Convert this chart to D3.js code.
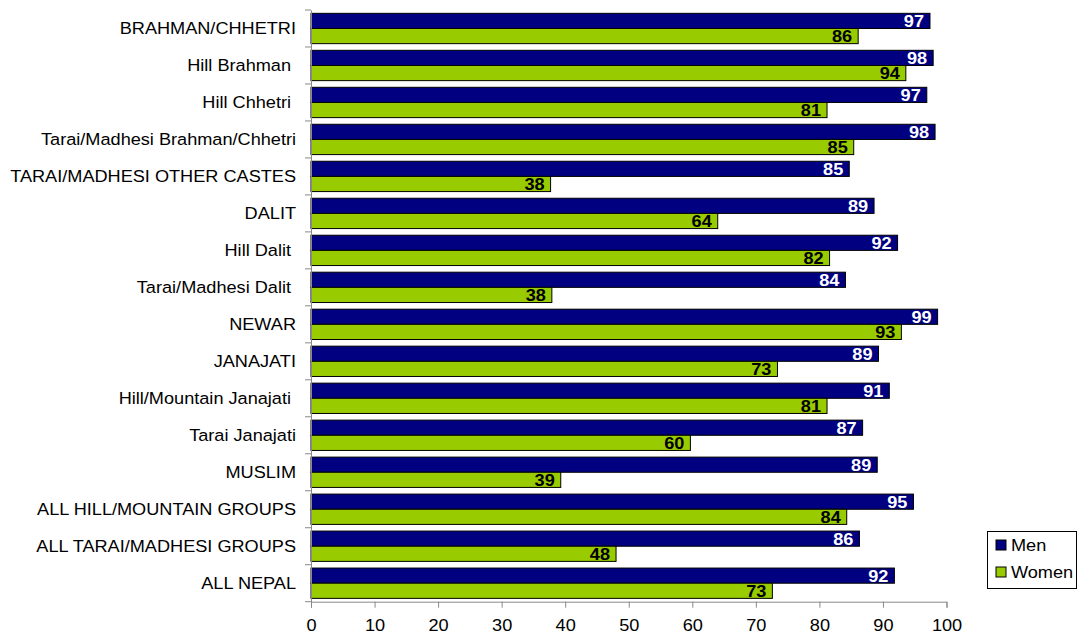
<!DOCTYPE html>
<html>
<head>
<meta charset="utf-8">
<script src="https://cdn.jsdelivr.net/npm/d3@7"></script>
<style>
  body { margin: 0; background: #fff; }
  svg { font-family: "Liberation Sans", Arial, sans-serif; }
</style>
</head>
<body>
<div></div>
<script>
// categories (top to bottom)
var categories = [
  "BRAHMAN/CHHETRI", "Hill Brahman ", "Hill Chhetri ", "Tarai/Madhesi Brahman/Chhetri",
  "TARAI/MADHESI OTHER CASTES", "DALIT", "Hill Dalit ", "Tarai/Madhesi Dalit ",
  "NEWAR", "JANAJATI", "Hill/Mountain Janajati ", "Tarai Janajati", "MUSLIM",
  "ALL HILL/MOUNTAIN GROUPS", "ALL TARAI/MADHESI GROUPS", "ALL NEPAL"
];
var series = ["Men", "Women"];
var men   = [97.4, 97.9, 96.9, 98.2, 84.7, 88.6, 92.3, 84.1, 98.6, 89.3, 91.0, 86.8, 89.1, 94.8, 86.3, 91.8];
var women = [86.1, 93.6, 81.2, 85.4, 37.7, 64.0, 81.6, 37.9, 92.9, 73.4, 81.2, 59.7, 39.3, 84.3, 48.0, 72.6];
var xTicks = [0, 10, 20, 30, 40, 50, 60, 70, 80, 90, 100];
var colors = {Men: "#000080", Women: "#99cc00"};
var labelColors = {Men: "#ffffff", Women: "#000000"};

// set the dimensions of the plot area
var width = 1078, height = 634;
var plot = {left: 311, right: 946.5, top: 10, bottom: 601.7};
var fontSize = "16.5px", stretch = "scale(1.1,1)";   // the source text is a bit wide

var svg = d3.select("div").append("svg")
    .attr("width", width)
    .attr("height", height);

var x = d3.scaleLinear().domain([0, 100]).range([plot.left, plot.right]);
var y = d3.scaleBand().domain(categories).range([plot.top, plot.bottom])
    .paddingInner(0.18).paddingOuter(0.09);
var ys = d3.scaleBand().domain(series).range([0, y.bandwidth()]);

var data = categories.map(function(c, i) {
  return {cat: c, values: [{s: "Men", v: men[i]}, {s: "Women", v: women[i]}]};
});

// bars
var groups = svg.append("g").selectAll("g")
  .data(data).enter().append("g")
    .attr("transform", function(d) { return "translate(0," + y(d.cat) + ")"; });

groups.selectAll("rect")
  .data(function(d) { return d.values; }).enter().append("rect")
    .attr("x", x(0))
    .attr("y", function(d) { return ys(d.s); })
    .attr("width", function(d) { return x(d.v) - x(0); })
    .attr("height", ys.bandwidth())
    .attr("fill", function(d) { return colors[d.s]; })
    .attr("stroke", "#000")
    .attr("stroke-width", 1);

groups.selectAll("text")
  .data(function(d) { return d.values; }).enter().append("text")
    .attr("transform", function(d) {
      return "translate(" + (x(d.v) - 6) + "," + (ys(d.s) + ys.bandwidth() / 2) + ") " + stretch;
    })
    .attr("dy", "0.36em")
    .attr("text-anchor", "end")
    .attr("font-weight", "bold")
    .attr("font-size", fontSize)
    .attr("fill", function(d) { return labelColors[d.s]; })
    .text(function(d) { return Math.round(d.v); });

// y axis line
var yAxis = svg.append("g")
    .attr("transform", "translate(" + plot.left + ",0)")
    .call(d3.axisLeft(y).tickSize(0).tickFormat(""));
yAxis.select(".domain").attr("stroke", "#888");
// band boundary ticks
svg.append("g").selectAll("line")
  .data(d3.range(categories.length + 1)).enter().append("line")
    .attr("x1", plot.left - 6).attr("x2", plot.left)
    .attr("y1", function(i) { return plot.top + i * y.step(); })
    .attr("y2", function(i) { return plot.top + i * y.step(); })
    .attr("stroke", "#888");

// category labels
svg.append("g").selectAll("text")
  .data(categories).enter().append("text")
    .attr("transform", function(d) {
      var px = d.endsWith(" ") ? 291 : 296;
      return "translate(" + px + "," + (y(d) + y.bandwidth() / 2) + ") " + stretch;
    })
    .attr("dy", "0.36em")
    .attr("text-anchor", "end")
    .attr("font-size", fontSize)
    .attr("fill", "#000")
    .text(function(d) { return d.trim(); });

// x axis
var xAxis = svg.append("g")
    .attr("transform", "translate(0," + plot.bottom + ")")
    .call(d3.axisBottom(x).tickValues(xTicks).tickSize(6).tickPadding(12));
xAxis.select(".domain").attr("stroke", "#888");
xAxis.selectAll(".tick line").attr("stroke", "#888");
xAxis.selectAll(".tick text")
    .attr("transform", stretch)
    .attr("font-size", fontSize)
    .attr("font-family", "Liberation Sans, Arial, sans-serif")
    .attr("fill", "#000");

// legend
var legend = svg.append("g");
legend.append("rect")
    .attr("x", 987.5).attr("y", 531.5)
    .attr("width", 89).attr("height", 57)
    .attr("fill", "#fff").attr("stroke", "#000");
series.forEach(function(s, i) {
  var cy = 545 + i * 27;
  legend.append("rect")
      .attr("x", 996).attr("y", cy - 5)
      .attr("width", 10).attr("height", 10)
      .attr("fill", colors[s]).attr("stroke", "#000");
  legend.append("text")
      .attr("transform", "translate(1011," + cy + ") " + stretch)
      .attr("dy", "0.36em")
      .attr("font-size", fontSize)
      .text(s);
});
</script>
</body>
</html>
